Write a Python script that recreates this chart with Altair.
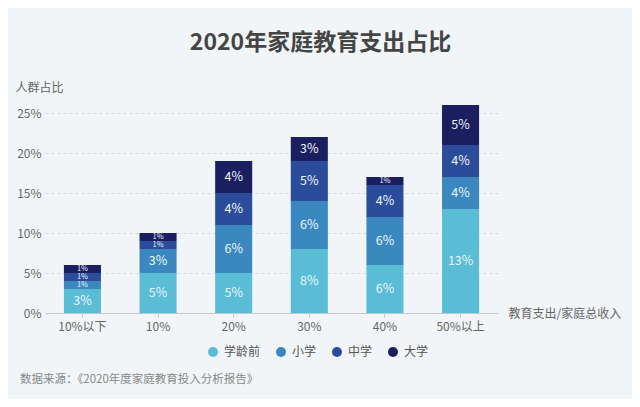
import altair as alt
import pandas as pd

categories = ["10%以下", "10%", "20%", "30%", "40%", "50%以上"]
levels = ["学龄前", "小学", "中学", "大学"]
preschool = [3, 5, 5, 8, 6, 13]
primary = [1, 3, 6, 6, 6, 4]
middle = [1, 1, 4, 5, 4, 4]
college = [1, 1, 4, 3, 1, 5]
colors = ["#5bbcd6", "#3a88bf", "#2b4c9b", "#1b1f5f"]
y_ticks = [0, 5, 10, 15, 20, 25]
title_text = "2020年家庭教育支出占比"
y_title = "人群占比"
x_title = "教育支出/家庭总收入"
source_text = ["数据来源：《2020年度家庭教育投入分析报告》"]

FONT = "Noto Sans CJK SC"

rows = []
for rank, (name, series) in enumerate(zip(levels, [preschool, primary, middle, college])):
    for c, v in zip(categories, series):
        rows.append({"cat": c, "level": name, "rank": rank, "value": v})
df = pd.DataFrame(rows)

base = alt.Chart(df).transform_stack(
    stack="value", groupby=["cat"], as_=["v0", "v1"],
    sort=[alt.SortField("rank", order="ascending")]
).transform_calculate(
    mid="(datum.v0 + datum.v1) / 2", label="datum.value + '%'"
)

x_enc = alt.X(
    "cat:N", sort=categories,
    scale=alt.Scale(paddingInner=0.51, paddingOuter=0.25),
    axis=alt.Axis(
        title=x_title, labelAngle=0, labelColor="#666", labelFontSize=12,
        labelFont=FONT, labelPadding=4, domainColor="#c4c8cc", tickColor="#c4c8cc",
        tickSize=4, titleFont=FONT, titleFontSize=12, titleFontWeight="normal",
        titleColor="#666", titleAnchor="start", titleAlign="left", titleBaseline="middle",
        titleX=463, titleY=0, grid=False,
    ),
)

y_scale = alt.Scale(domain=[0, 26.5], nice=False)

bars = base.mark_bar().encode(
    x=x_enc,
    y=alt.Y(
        "v0:Q", scale=y_scale,
        axis=alt.Axis(
            values=y_ticks, labelExpr="datum.value + '%'", labelColor="#666",
            labelFontSize=12, labelFont=FONT, labelPadding=4, ticks=False, domain=False,
            grid=True, gridColor="#d6dbde", gridDash=[3, 3],
            title=y_title, titleAngle=0, titleAlign="left", titleBaseline="middle",
            titleX=-30, titleY=-14, titleFont=FONT, titleFontSize=12,
            titleFontWeight="normal", titleColor="#666",
        ),
    ),
    y2="v1:Q",
    color=alt.Color(
        "level:N", scale=alt.Scale(domain=levels, range=colors),
        legend=alt.Legend(
            title=None, orient="none", direction="horizontal", legendX=162, legendY=245,
            symbolType="circle", symbolSize=100, symbolStrokeWidth=0, labelFont=FONT,
            labelFontSize=12, labelColor="#555", columnPadding=14, labelOffset=5,
            gridAlign="none",
        ),
    ),
    order=alt.Order("rank:Q"),
)

texts = base.mark_text(color="#eaf6fa", font=FONT, baseline="middle").encode(
    x=alt.X("cat:N", sort=categories),
    y=alt.Y("mid:Q", scale=y_scale),
    text="label:N",
    size=alt.condition(alt.datum.value == 1, alt.value(7.5), alt.value(12.5)),
)

source = alt.Chart(pd.DataFrame({"t": source_text})).mark_text(
    align="left", baseline="middle", font=FONT, fontSize=11.5, color="#888"
).encode(x=alt.value(-25), y=alt.value(279), text="t:N")

chart = alt.layer(bars, texts, source).properties(
    width=453, height=212,
    autosize=alt.AutoSizeParams(type="none"),
    padding={"left": 37, "top": 93, "right": 134, "bottom": 86},
    background="#f1f5f7",
    title=alt.Title(
        title_text, font=FONT, fontSize=23, fontWeight="bold", color="#454545",
        anchor="middle", dx=49, offset=26,
    ),
).configure_view(stroke=None)

chart.save("out.html", embed_options={"renderer": "svg", "actions": False})
